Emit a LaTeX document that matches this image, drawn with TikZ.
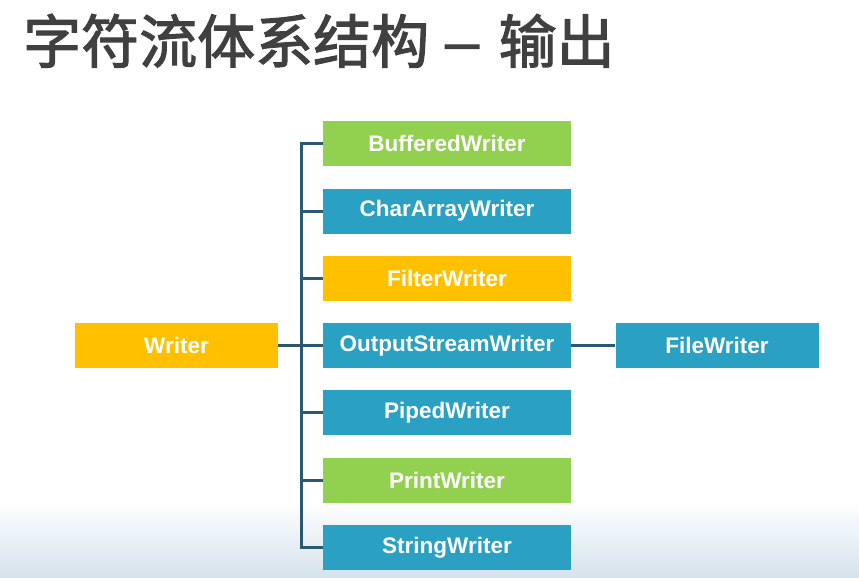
\documentclass[tikz,border=0pt]{standalone}
\usepackage{fontspec}
\setmainfont{Liberation Sans}
\newfontfamily\cjk[FakeBold=2]{Noto Sans CJK SC}
\definecolor{cgreen}{HTML}{92D050}
\definecolor{cblue}{HTML}{2AA0C2}
\definecolor{corange}{HTML}{FFC000}
\definecolor{cline}{HTML}{2B5873}
\definecolor{ctitle}{HTML}{404040}
\definecolor{cbg}{HTML}{D5E2EC}
\begin{document}
\begin{tikzpicture}[x=1pt,y=-1pt,
  box/.style={minimum width=248pt, minimum height=45pt, inner sep=0pt, text=white,
    font=\fontsize{22.5}{26}\selectfont\bfseries},
  sidebox/.style={box, minimum width=203pt},
  conn/.style={draw=cline, line width=3pt}]
\useasboundingbox (0,0) rectangle (859,578);
% faded background at bottom
\shade[top color=white, bottom color=cbg] (0,500) rectangle (859,578);
% title
\node[anchor=base west, inner sep=0pt, text=ctitle, font=\cjk\fontsize{58}{60}\selectfont] (title) at (23,63) {字符流体系结构\hspace{0.22em}\scalebox{1.3}[1]{–}\hspace{0.28em}输出};
% nodes
\node[sidebox, fill=corange] (writer) at (176.5,345.5) {Writer};
\node[box, fill=cgreen]  (buf)   at (447,143.5) {BufferedWriter};
\node[box, fill=cblue]   (car)   at (447,211)   {CharArrayWriter};
\node[box, fill=corange] (fil)   at (447,278)   {FilterWriter};
\node[box, fill=cblue]   (osw)   at (447,345.5) {OutputStreamWriter};
\node[box, fill=cblue]   (pip)   at (447,412.5) {PipedWriter};
\node[box, fill=cgreen]  (pri)   at (447,480)   {PrintWriter};
\node[box, fill=cblue]   (str)   at (447,547.5) {StringWriter};
\node[sidebox, fill=cblue] (fw)  at (717,345.5) {FileWriter};
% connectors
\coordinate (top) at (301,143.5);
\coordinate (bot) at (301,547.5);
\coordinate (mid) at (301,345.5);
\draw[conn] (buf.west) -- (top) -- (bot) -- (str.west);
\draw[conn] (writer.east) -- (mid);
\foreach \n in {car,fil,osw,pip,pri} \draw[conn] (\n.west) -- (\n.west -| mid);
\draw[conn] (osw.east) -- (fw.west);
\end{tikzpicture}
\end{document}
